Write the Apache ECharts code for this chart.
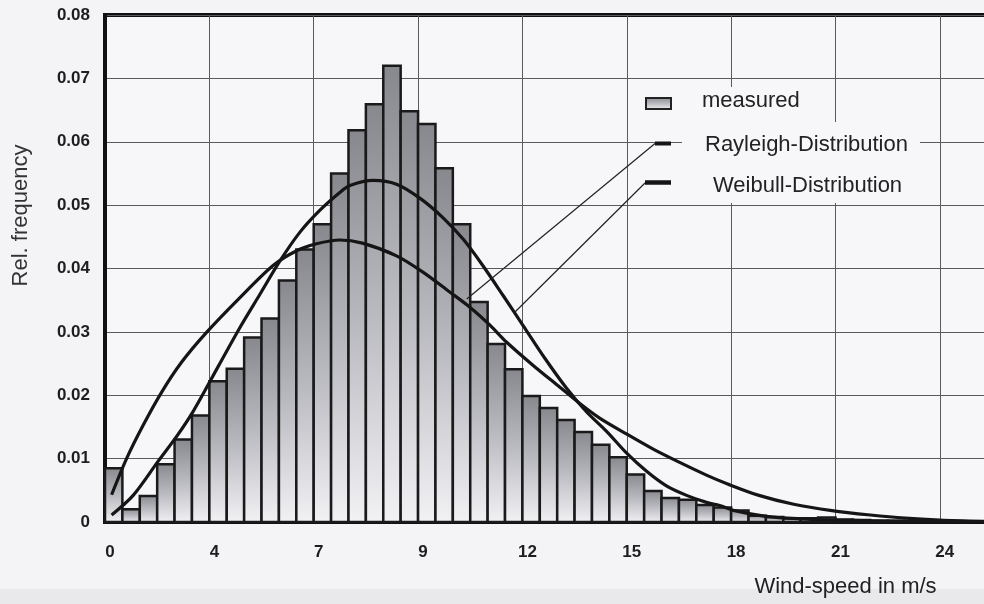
<!DOCTYPE html>
<html>
<head>
<meta charset="utf-8">
<script src="https://cdn.jsdelivr.net/npm/echarts@6/dist/echarts.min.js"></script>
<style>
  html, body { margin: 0; padding: 0; background: #f4f4f7; }
  #chart { width: 984px; height: 604px; }
</style>
</head>
<body>
<div id="chart"></div>
<script>
// Histogram of measured wind speeds, bins of 0.5 m/s starting at 0
const binWidth = 0.5;
const measured = [
  0.0085, 0.0020, 0.0041, 0.0091, 0.0130, 0.0168, 0.0222, 0.0242, 0.0291, 0.0321,
  0.0381, 0.0430, 0.0470, 0.0550, 0.0618, 0.0659, 0.0720, 0.0648, 0.0628, 0.0558,
  0.0470, 0.0347, 0.0281, 0.0241, 0.0199, 0.0180, 0.0161, 0.0142, 0.0122, 0.0102,
  0.0075, 0.0049, 0.0038, 0.0035, 0.0027, 0.0023, 0.0018, 0.0010, 0.0008, 0.0006,
  0.0006, 0.0007, 0.0004, 0.0003, 0.0002, 0.0002, 0.0001, 0.0001, 0.0001, 0.0001
];

// Fitted curves as [wind speed m/s, relative frequency]
const rayleigh = [
  [0.19, 0.0043], [0.62, 0.0100], [1.10, 0.0153], [1.63, 0.0205], [2.20, 0.0252],
  [2.90, 0.0298], [3.88, 0.0354], [4.84, 0.0405], [5.51, 0.0428], [6.08, 0.0439],
  [6.75, 0.0445], [7.40, 0.0440], [8.38, 0.0420], [9.15, 0.0394], [9.91, 0.0363],
  [10.49, 0.0339], [11.06, 0.0311], [11.54, 0.0284], [12.31, 0.0247], [13.07, 0.0213],
  [13.65, 0.0187], [14.22, 0.0164], [14.99, 0.0139], [15.76, 0.0115], [16.52, 0.0094],
  [17.29, 0.0074], [17.90, 0.0060], [18.80, 0.0042], [19.80, 0.0028], [20.90, 0.0018],
  [22.00, 0.0011], [23.00, 0.0006], [24.00, 0.0003], [25.30, 0.0001]
];
const weibull = [
  [0.19, 0.0011], [0.81, 0.0042], [1.53, 0.0096], [2.06, 0.0135], [2.54, 0.0175],
  [3.26, 0.0246], [3.88, 0.0307], [4.45, 0.0359], [5.03, 0.0412], [5.60, 0.0457],
  [6.18, 0.0492], [6.75, 0.0520], [7.04, 0.0531], [7.71, 0.0539], [8.38, 0.0533],
  [9.05, 0.0511], [9.72, 0.0480], [10.30, 0.0446], [10.87, 0.0404], [11.45, 0.0357],
  [12.02, 0.0310], [12.65, 0.0258], [13.27, 0.0211], [13.84, 0.0174], [14.42, 0.0143],
  [14.99, 0.0109], [15.57, 0.0080], [16.14, 0.0057], [16.72, 0.0042], [17.29, 0.0031],
  [17.67, 0.0026], [18.10, 0.0018], [19.00, 0.0009], [20.00, 0.0005], [21.00, 0.0003],
  [22.00, 0.0002], [23.00, 0.0001], [25.30, 0.0000]
];

// Axis labelling
const xTickStep = 3;
const xTickLabels = ['0', '4', '7', '9', '12', '15', '18', '21', '24'];
const yTickLabels = ['0', '0.01', '0.02', '0.03', '0.04', '0.05', '0.06', '0.07', '0.08'];
const seriesNames = ['measured', 'Rayleigh-Distribution', 'Weibull-Distribution'];
const xTitle = 'Wind-speed in m/s';
const yTitle = 'Rel. frequency';

// Points on the curves that the legend leader lines point at
const rayleighPointer = [10.4, 0.0352];
const weibullPointer = [11.78, 0.0331];

const FONT = '"Liberation Sans", Arial, Helvetica, sans-serif';
const PLOT_BG = '#f7f7fa';
const INK = '#151515';

const chart = echarts.init(document.getElementById('chart'), null, { renderer: 'canvas' });

function barFill() {
  return new echarts.graphic.LinearGradient(0, 0, 0, 1, [
    { offset: 0, color: '#87878e' },
    { offset: 0.5, color: '#b9b9c0' },
    { offset: 1, color: '#f2f2f5' }
  ]);
}

chart.setOption({
  backgroundColor: '#f4f4f7',
  animation: false,
  grid: {
    left: 105, top: 15, width: 887, height: 507,
    show: true, backgroundColor: PLOT_BG,
    borderColor: '#111', borderWidth: 4,
    outerBoundsMode: 'none'
  },
  xAxis: {
    type: 'value', min: 0, max: 25.5, interval: xTickStep,
    axisLine: { show: true, onZero: false, lineStyle: { color: '#111', width: 4 } },
    axisTick: { show: false },
    splitLine: { show: true, lineStyle: { color: '#5a5a5a', width: 1 } },
    axisLabel: {
      formatter: function (v) {
        const i = Math.round(v / xTickStep);
        return Math.abs(v - i * xTickStep) < 1e-6 && xTickLabels[i] !== undefined ? xTickLabels[i] : '';
      },
      showMaxLabel: false,
      margin: 22, fontSize: 17, fontWeight: 'bold', color: '#1e1e1e', fontFamily: FONT,
      padding: [0, 0, 0, 10]
    },
    name: xTitle, nameLocation: 'middle', nameGap: 54, nameMoveOverlap: false,
    nameTextStyle: {
      fontSize: 22, color: '#222', fontFamily: FONT,
      padding: [0, 0, 0, 594]
    }
  },
  yAxis: {
    type: 'value', min: 0, max: 0.08, interval: 0.01,
    axisLine: { show: true, onZero: false, lineStyle: { color: '#111', width: 4 } },
    axisTick: { show: false },
    splitLine: { show: true, lineStyle: { color: '#5a5a5a', width: 1 } },
    axisLabel: {
      formatter: function (v) {
        const i = Math.round(v / 0.01);
        return yTickLabels[i] !== undefined ? yTickLabels[i] : '';
      },
      margin: 15, fontSize: 17, fontWeight: 'bold', color: '#1e1e1e', fontFamily: FONT
    },
    name: yTitle, nameLocation: 'middle', nameGap: 73, nameMoveOverlap: false,
    nameTextStyle: {
      fontSize: 22, color: '#333', fontFamily: FONT,
      padding: [0, 0, 0, 106]
    }
  },
  series: [
    {
      name: seriesNames[0],
      type: 'custom',
      z: 2,
      data: measured.map(function (v, i) { return [i * binWidth, v]; }),
      encode: { x: 0, y: 1 },
      renderItem: function (params, api) {
        const x0 = api.value(0);
        const h = api.value(1);
        const topLeft = api.coord([x0, h]);
        const bottomRight = api.coord([x0 + binWidth, 0]);
        return {
          type: 'rect',
          shape: {
            x: topLeft[0], y: topLeft[1],
            width: bottomRight[0] - topLeft[0],
            height: bottomRight[1] - topLeft[1]
          },
          style: { fill: barFill(), stroke: '#1a1a1a', lineWidth: 2.5 }
        };
      }
    },
    {
      name: seriesNames[1],
      type: 'line',
      z: 4,
      data: rayleigh,
      showSymbol: false,
      smooth: 0.3,
      lineStyle: { color: INK, width: 3.2 }
    },
    {
      name: seriesNames[2],
      type: 'line',
      z: 4,
      data: weibull,
      showSymbol: false,
      smooth: 0.3,
      lineStyle: { color: INK, width: 3.2 }
    }
  ]
});

// Legend block with leader lines pointing at the two curves
const pR = chart.convertToPixel({ gridIndex: 0 }, rayleighPointer);
const pW = chart.convertToPixel({ gridIndex: 0 }, weibullPointer);

function legendText(label, x, y, padding) {
  return {
    type: 'text', x: x, y: y, z: 20,
    style: {
      text: label, font: '22px ' + FONT, fill: '#222',
      align: 'left', verticalAlign: 'top',
      backgroundColor: PLOT_BG, padding: padding
    }
  };
}

chart.setOption({
  graphic: [
    {
      type: 'rect', z: -5, silent: true,
      shape: { x: 0, y: 589, width: 984, height: 15 },
      style: { fill: '#e9e9ec' }
    },
    {
      type: 'line', z: 20,
      shape: { x1: 655, y1: 143.5, x2: pR[0], y2: pR[1] },
      style: { stroke: '#222', lineWidth: 1.2 }
    },
    {
      type: 'line', z: 20,
      shape: { x1: 645, y1: 183, x2: pW[0], y2: pW[1] },
      style: { stroke: '#222', lineWidth: 1.2 }
    },
    {
      type: 'rect', z: 20,
      shape: { x: 646, y: 98, width: 25, height: 11 },
      style: { fill: barFill(), stroke: '#222', lineWidth: 2 }
    },
    {
      type: 'line', z: 20,
      shape: { x1: 655, y1: 143.5, x2: 671, y2: 143.5 },
      style: { stroke: INK, lineWidth: 4 }
    },
    {
      type: 'line', z: 20,
      shape: { x1: 645, y1: 182.5, x2: 671, y2: 182.5 },
      style: { stroke: INK, lineWidth: 4.5 }
    },
    legendText(seriesNames[0], 690, 87, [2.5, 10, 10.5, 12]),
    legendText(seriesNames[1], 682, 122, [11.7, 12, 9.3, 23]),
    legendText(seriesNames[2], 700, 165, [9.5, 14, 6.5, 13])
  ]
});
</script>
</body>
</html>
